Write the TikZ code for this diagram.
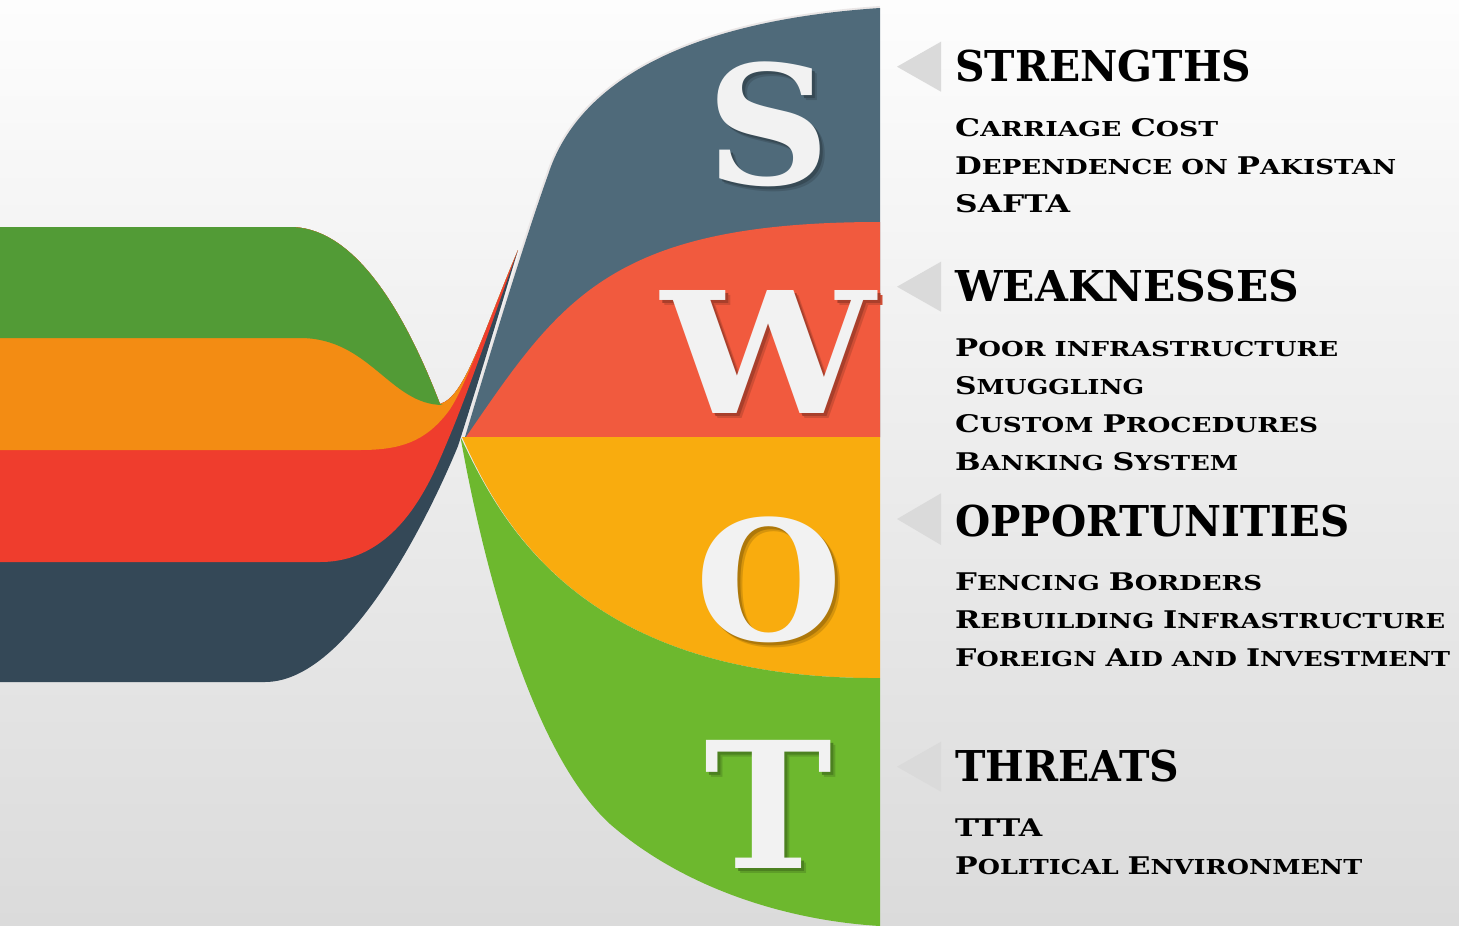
\documentclass[tikz,border=0pt]{standalone}
\usepackage{fontspec}
\usepackage{graphicx}
\setmainfont{DejaVu Serif}
\newfontfamily\cpf{DejaVu Serif}

\definecolor{cS}{HTML}{4F6A7A}
\definecolor{cW}{HTML}{F15A3E}
\definecolor{cO}{HTML}{F9AC0E}
\definecolor{cT}{HTML}{6DB82E}
\definecolor{lGreen}{HTML}{529B36}
\definecolor{lOrange}{HTML}{F38C13}
\definecolor{lRed}{HTML}{EF3D2D}
\definecolor{lDark}{HTML}{344857}
\definecolor{tri}{HTML}{DADADA}
\definecolor{hl}{HTML}{EAE6E6}
\definecolor{letterc}{HTML}{F2F2F2}
\definecolor{bgA}{HTML}{FDFDFD}
\definecolor{bgB}{HTML}{F5F5F5}
\definecolor{bgC}{HTML}{DBDBDB}

\newcommand\hdfont{\cpf\bfseries\fontsize{42.5}{48}\selectfont}
\newcommand\itfont{\cpf\bfseries\fontsize{20.6}{24}\selectfont}
\newcommand\BC[1]{{\fontsize{24.3}{24}\selectfont #1}}
\newcommand\fw[2]{\resizebox{#1pt}{\height}{#2}}
% shadowed big letter: #1 width, #2 height, #3 letter, #4 region colour
\newcommand\shletter[4]{%
  \makebox[0pt][l]{\smash{\hspace*{5pt}\raisebox{-5pt}{\textcolor{#4!86!black}{\resizebox*{#1pt}{#2pt}{#3}}}}}%
  \makebox[0pt][l]{\smash{\hspace*{3pt}\raisebox{-3pt}{\textcolor{#4!70!black}{\resizebox*{#1pt}{#2pt}{#3}}}}}%
  \textcolor{letterc}{\resizebox*{#1pt}{#2pt}{#3}}}
\newcommand\ribtop{(-1,227) -- (290,227) .. controls (350,227) and (400,300) .. (440,404) .. controls (465,397) and (482,335) .. (518,250)}

\begin{document}
\begin{tikzpicture}[x=1pt,y=-1pt,
  heading/.style={anchor=base west, inner sep=0pt, font=\hdfont, text=black},
  item/.style={anchor=base west, inner sep=0pt, font=\itfont, text=black},
  bigl/.style={inner sep=0pt, font=\cpf\bfseries},
  marker/.style={fill=tri}]
\useasboundingbox (0,0) rectangle (1459,926);
\shade[top color=bgA, middle color=bgB, bottom color=bgC] (0,0) rectangle (1459,926);

% left ribbon
\fill[lDark] \ribtop .. controls (500,310) and (476,390) .. (458,446) .. controls (440,490) and (355,682) .. (265,682) -- (-1,682) -- cycle;
\fill[lRed] \ribtop .. controls (496,310) and (470,388) .. (448,440) .. controls (432,478) and (400,562) .. (320,562) -- (-1,562) -- cycle;
\fill[lOrange] \ribtop .. controls (492,310) and (466,388) .. (448,412) .. controls (425,442) and (400,450) .. (360,450) -- (-1,450) -- cycle;
\fill[lGreen] (-1,227) -- (290,227) .. controls (350,227) and (400,300) .. (440,404) .. controls (441,405) and (442,405) .. (443,405) .. controls (390,405) and (370,338) .. (300,338) -- (-1,338) -- cycle;

% right column
\draw[hl, line width=4] (465,437) .. controls (500,320) and (530,225) .. (548,175) .. controls (580,75) and (700,20) .. (880,8);
\fill[cS] (465,437) .. controls (500,320) and (530,225) .. (548,175) .. controls (580,75) and (700,20) .. (880,8) -- (880,437) -- cycle;
\fill[cW] (466,437) .. controls (560,300) and (610,222) .. (880,222) -- (880,437) -- cycle;
\fill[cO] (462,437) -- (880,437) -- (880,678) .. controls (580,680) and (500,520) .. (462,437) -- cycle;
\fill[cT] (461,440) .. controls (490,600) and (540,760) .. (610,824) .. controls (680,885) and (780,920) .. (880,926) -- (880,678) .. controls (580,680) and (500,520) .. (461,438) -- cycle;

% big letters (with drop shadows inside the same node)
\node[bigl] (bigS) at (769,124) {\shletter{124}{125}{S}{cS}};
\node[bigl] (bigW) at (769,352) {\shletter{214}{123}{W}{cW}};
\node[bigl] (bigO) at (769.5,580) {\shletter{147}{126}{O}{cO}};
\node[bigl] (bigT) at (769,804) {\shletter{128}{128}{T}{cT}};

% markers
\fill[marker] (897,66.7) -- (941,41.7) -- (941,91.7) -- cycle;
\fill[marker] (897,286.7) -- (941,261.7) -- (941,311.7) -- cycle;
\fill[marker] (897,519) -- (941,493.3) -- (941,545) -- cycle;
\fill[marker] (897,766.7) -- (941,741.7) -- (941,791.7) -- cycle;

% texts
\node[heading] (hS) at (955,81.7) {\fw{296}{STRENGTHS}};
\node[item] (s1) at (955,136) {\fw{263}{\BC{C}ARRIAGE \BC{C}OST}};
\node[item] (s2) at (955,174) {\fw{441}{\BC{D}EPENDENCE ON \BC{P}AKISTAN}};
\node[item] (s3) at (955,212.3) {\fw{115}{\BC{SAFTA}}};

\node[heading] (hW) at (955,301.7) {\fw{344}{WEAKNESSES}};
\node[item] (w1) at (955,356) {\fw{383}{\BC{P}OOR INFRASTRUCTURE}};
\node[item] (w2) at (955,394) {\fw{189}{\BC{S}MUGGLING}};
\node[item] (w3) at (955,432.3) {\fw{363}{\BC{C}USTOM \BC{P}ROCEDURES}};
\node[item] (w4) at (955,470.7) {\fw{283}{\BC{B}ANKING \BC{S}YSTEM}};

\node[heading] (hO) at (955,536.7) {\fw{394}{OPPORTUNITIES}};
\node[item] (o1) at (955,590) {\fw{307}{\BC{F}ENCING \BC{B}ORDERS}};
\node[item] (o2) at (955,628.3) {\fw{490}{\BC{R}EBUILDING \BC{I}NFRASTRUCTURE}};
\node[item] (o3) at (955,666.7) {\fw{495}{\BC{F}OREIGN \BC{A}ID AND \BC{I}NVESTMENT}};

\node[heading] (hT) at (955,781.7) {\fw{224}{THREATS}};
\node[item] (t1) at (955,836) {\fw{87}{\BC{TTTA}}};
\node[item] (t2) at (955,874.3) {\fw{407}{\BC{P}OLITICAL \BC{E}NVIRONMENT}};
\end{tikzpicture}
\end{document}
